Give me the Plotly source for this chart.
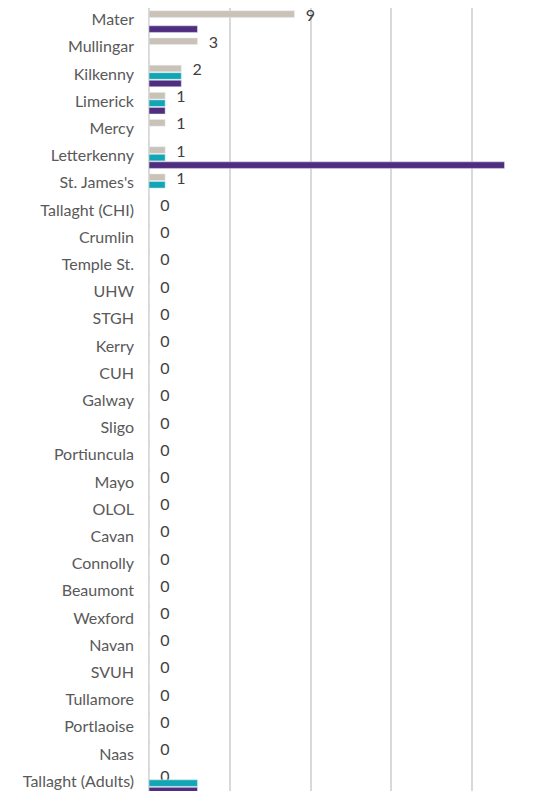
import plotly.graph_objects as go

# =========================================================
#  DADOS
# =========================================================

HOSPITAIS = [
    "Mater", "Mullingar", "Kilkenny", "Limerick", "Mercy", "Letterkenny",
    "St. James's", "Tallaght (CHI)", "Crumlin", "Temple St.", "UHW", "STGH",
    "Kerry", "CUH", "Galway", "Sligo", "Portiuncula", "Mayo", "OLOL", "Cavan",
    "Connolly", "Beaumont", "Wexford", "Navan", "SVUH", "Tullamore",
    "Portlaoise", "Naas", "Tallaght (Adults)",
]

SERIE_A = [9, 3, 2, 1, 1, 1, 1, 0, 0, 0, 0, 0, 0, 0, 0, 0, 0, 0, 0, 0,
           0, 0, 0, 0, 0, 0, 0, 0, 0]
SERIE_B = [0, 0, 2, 1, 0, 1, 1, 0, 0, 0, 0, 0, 0, 0, 0, 0, 0, 0, 0, 0,
           0, 0, 0, 0, 0, 0, 0, 0, 3]
SERIE_C = [3, 0, 2, 1, 0, 22, 0, 0, 0, 0, 0, 0, 0, 0, 0, 0, 0, 0, 0, 0,
           0, 0, 0, 0, 0, 0, 0, 0, 3]

X_TICKS = [0, 5, 10, 15, 20, 25]

# =========================================================
#  CORES
# =========================================================

COR_BEGE = "#CAC2B7"
COR_TEAL = "#12A6B4"
COR_ROXO = "#4F2D7F"
COR_GRID = "#D9D9D9"
COR_TEXTO = "#595959"

FONTE = "Lato"

fig = go.Figure()

fig.add_trace(go.Bar(
    y=HOSPITAIS,
    x=SERIE_A,
    orientation="h",
    name="Série 1",
    marker=dict(color=COR_BEGE),
    texttemplate="\u00a0\u00a0%{x}",
    textposition="outside",
    constraintext="none",
    textfont=dict(family=FONTE, size=16, color="#404040"),
    cliponaxis=False,
))
fig.add_trace(go.Bar(
    y=HOSPITAIS,
    x=SERIE_B,
    orientation="h",
    name="Série 2",
    marker=dict(color=COR_TEAL),
))
fig.add_trace(go.Bar(
    y=HOSPITAIS,
    x=SERIE_C,
    orientation="h",
    name="Série 3",
    marker=dict(color=COR_ROXO),
))

fig.update_layout(
    width=554,
    height=791,
    margin=dict(l=149, r=1, t=8, b=0),
    barmode="group",
    bargap=0.17,
    bargroupgap=0.12,
    showlegend=False,
    plot_bgcolor="white",
    paper_bgcolor="white",
    font=dict(family=FONTE, size=16, color=COR_TEXTO),
)

fig.update_xaxes(
    range=[0, 25],
    tickvals=X_TICKS,
    showticklabels=False,
    showgrid=True,
    gridcolor=COR_GRID,
    gridwidth=1.5,
    zeroline=True,
    zerolinecolor=COR_GRID,
    zerolinewidth=1.5,
)

fig.update_yaxes(
    categoryorder="array",
    categoryarray=HOSPITAIS,
    range=[28.29, -0.5],
    automargin=False,
    showgrid=False,
    ticks="",
    ticklabelstandoff=14,
    ticklabelshift=2,
    tickfont=dict(family=FONTE, size=16, color=COR_TEXTO),
)

# tira a margem de 8px do <body> para a figura ocupar a janela toda
fig.write_html(
    "out.html",
    config={"displayModeBar": False},
    post_script="document.body.style.margin='0';",
)
